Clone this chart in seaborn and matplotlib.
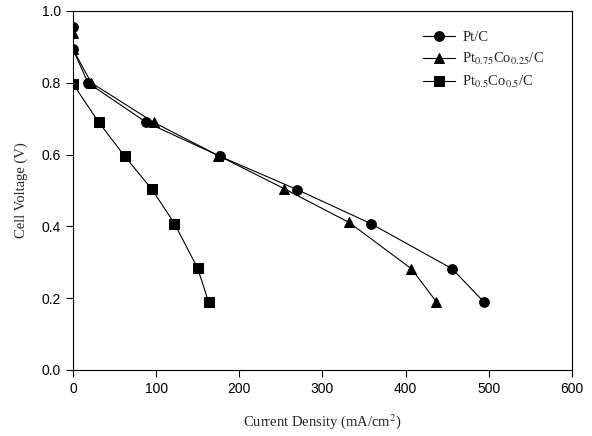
import numpy as np
import pandas as pd
import matplotlib
matplotlib.use("Agg")
import matplotlib.pyplot as plt
import seaborn as sns

# current density (mA/cm2) and cell voltage (V) per catalyst
pt_x = [0, 0, 18, 88, 177, 270, 358, 456, 494]
pt_y = [0.955, 0.893, 0.800, 0.690, 0.595, 0.502, 0.408, 0.282, 0.190]

ptco75_x = [0, 0, 22, 97, 175, 254, 332, 407, 437]
ptco75_y = [0.940, 0.893, 0.800, 0.690, 0.597, 0.505, 0.411, 0.282, 0.190]

ptco50_x = [0, 31, 62, 95, 122, 150, 163]
ptco50_y = [0.797, 0.690, 0.596, 0.503, 0.408, 0.283, 0.190]

labels = ["Pt/C", "Pt$_{0.75}$Co$_{0.25}$/C", "Pt$_{0.5}$Co$_{0.5}$/C"]

frames = []
for lab, xs, ys in zip(labels, [pt_x, ptco75_x, ptco50_x], [pt_y, ptco75_y, ptco50_y]):
    frames.append(pd.DataFrame({"x": xs, "y": ys, "catalyst": lab}))
df = pd.concat(frames, ignore_index=True)

sns.set_style("ticks")
plt.rcParams["font.family"] = ["Liberation Serif", "DejaVu Serif"]
plt.rcParams["mathtext.fontset"] = "stix"

fig = plt.figure(figsize=(5.92, 4.36), dpi=100)
ax = fig.add_axes([0.1233, 0.1514, 0.8427, 0.8234])

sns.lineplot(data=df, x="x", y="y", hue="catalyst", style="catalyst",
             markers=["o", "^", "s"], dashes=False, sort=False, estimator=None,
             palette=["black"] * 3, markersize=7, linewidth=0.8,
             markeredgecolor="black", ax=ax)

ax.set_xlim(0, 600)
ax.set_ylim(0, 1.0)
ax.set_xticks([0, 100, 200, 300, 400, 500, 600])
ax.set_yticks([0.0, 0.2, 0.4, 0.6, 0.8, 1.0])
ax.set_yticklabels(["0.0", "0.2", "0.4", "0.6", "0.8", "1.0"])
for lbl in ax.get_xticklabels() + ax.get_yticklabels():
    lbl.set_fontfamily("Liberation Sans")
    lbl.set_fontsize(10)
ax.tick_params(direction="out", length=5, width=0.8, colors="black")
for sp in ax.spines.values():
    sp.set_visible(True)
    sp.set_linewidth(0.8)
    sp.set_color("black")

ax.set_xlabel("Current Density (mA/cm$^2$)", fontsize=10.5, labelpad=12)
ax.set_ylabel("Cell Voltage (V)", fontsize=10.5, labelpad=10)

leg = ax.legend(loc="upper left", bbox_to_anchor=(0.69, 0.962), frameon=False,
                fontsize=10.5, handlelength=2.2, labelspacing=0.5, handletextpad=0.5,
                borderaxespad=0)
for h in leg.get_lines():
    h.set_markersize(7)

fig.savefig("out.png", dpi=100)
